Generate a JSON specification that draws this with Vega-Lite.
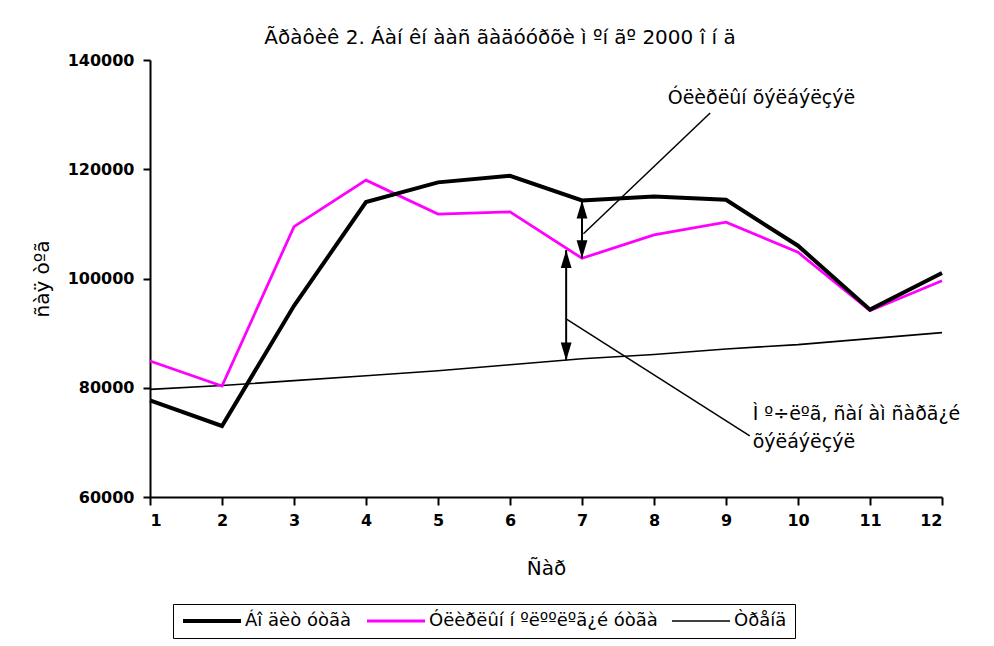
{
  "$schema": "https://vega.github.io/schema/vega-lite/v6.json",
  "autosize": {"type": "none"},
  "padding": {"left": 150, "top": 60, "right": 52, "bottom": 149},
  "width": 792,
  "height": 437,
  "background": "white",
  "title": {
    "text": "Ãðàôèê 2. Áàí êí ààñ ãàäóóðõè ì ºí ãº 2000 î í ä",
    "anchor": "middle",
    "dx": -46,
    "offset": 4,
    "fontSize": 20,
    "fontWeight": "normal",
    "font": "DejaVu Sans",
    "color": "black"
  },
  "config": {
    "view": {"stroke": null},
    "axis": {
      "grid": false,
      "domainColor": "black",
      "domainWidth": 2,
      "tickColor": "black",
      "tickWidth": 2,
      "labelColor": "black",
      "titleColor": "black",
      "labelFont": "DejaVu Sans",
      "titleFont": "DejaVu Sans",
      "labelFontSize": 16,
      "labelFontWeight": "bold",
      "titleFontSize": 20,
      "titleFontWeight": "normal"
    },
    "legend": {
      "labelFont": "DejaVu Sans",
      "labelFontSize": 18,
      "labelColor": "black",
      "labelLimit": 500
    }
  },
  "datasets": {
    "series": [
      {"month": 1, "series": "Òðåíä", "value": 79700},
      {"month": 2, "series": "Òðåíä", "value": 80400},
      {"month": 3, "series": "Òðåíä", "value": 81300},
      {"month": 4, "series": "Òðåíä", "value": 82200},
      {"month": 5, "series": "Òðåíä", "value": 83100},
      {"month": 6, "series": "Òðåíä", "value": 84200},
      {"month": 7, "series": "Òðåíä", "value": 85300},
      {"month": 8, "series": "Òðåíä", "value": 86100},
      {"month": 9, "series": "Òðåíä", "value": 87100},
      {"month": 10, "series": "Òðåíä", "value": 87900},
      {"month": 11, "series": "Òðåíä", "value": 89000},
      {"month": 12, "series": "Òðåíä", "value": 90100},
      {"month": 1, "series": "Óëèðëûí í ºëººëºã¿é óòãà", "value": 84900},
      {"month": 2, "series": "Óëèðëûí í ºëººëºã¿é óòãà", "value": 80300},
      {"month": 3, "series": "Óëèðëûí í ºëººëºã¿é óòãà", "value": 109500},
      {"month": 4, "series": "Óëèðëûí í ºëººëºã¿é óòãà", "value": 118000},
      {"month": 5, "series": "Óëèðëûí í ºëººëºã¿é óòãà", "value": 111800},
      {"month": 6, "series": "Óëèðëûí í ºëººëºã¿é óòãà", "value": 112200},
      {"month": 7, "series": "Óëèðëûí í ºëººëºã¿é óòãà", "value": 103700},
      {"month": 8, "series": "Óëèðëûí í ºëººëºã¿é óòãà", "value": 108000},
      {"month": 9, "series": "Óëèðëûí í ºëººëºã¿é óòãà", "value": 110300},
      {"month": 10, "series": "Óëèðëûí í ºëººëºã¿é óòãà", "value": 104800},
      {"month": 11, "series": "Óëèðëûí í ºëººëºã¿é óòãà", "value": 94100},
      {"month": 12, "series": "Óëèðëûí í ºëººëºã¿é óòãà", "value": 99600},
      {"month": 1, "series": "Áî äèò óòãà", "value": 77700},
      {"month": 2, "series": "Áî äèò óòãà", "value": 73000},
      {"month": 3, "series": "Áî äèò óòãà", "value": 95000},
      {"month": 4, "series": "Áî äèò óòãà", "value": 114000},
      {"month": 5, "series": "Áî äèò óòãà", "value": 117600},
      {"month": 6, "series": "Áî äèò óòãà", "value": 118800},
      {"month": 7, "series": "Áî äèò óòãà", "value": 114300},
      {"month": 8, "series": "Áî äèò óòãà", "value": 115000},
      {"month": 9, "series": "Áî äèò óòãà", "value": 114400},
      {"month": 10, "series": "Áî äèò óòãà", "value": 106000},
      {"month": 11, "series": "Áî äèò óòãà", "value": 94300},
      {"month": 12, "series": "Áî äèò óòãà", "value": 101000}
    ],
    "arrows": [
      {"ax": 7, "ytop": 114300, "ybot": 103700},
      {"ax": 6.78, "ytop": 105200, "ybot": 85000}
    ],
    "heads": [
      {"ax": 7, "ay": 114300, "dir": "up"},
      {"ax": 7, "ay": 103700, "dir": "down"},
      {"ax": 6.78, "ay": 105200, "dir": "up"},
      {"ax": 6.78, "ay": 85000, "dir": "down"}
    ],
    "leaders": [
      {"lx1": 7.02, "ly1": 108200, "lx2": 8.78, "ly2": 130300},
      {"lx1": 6.79, "ly1": 92500, "lx2": 9.33, "ly2": 71200}
    ],
    "labels": [
      {"tx": 8.19, "ty": 133000, "label": "Óëèðëûí  õýëáýëçýë"},
      {"tx": 9.37, "ty": 75200, "label": "Ì º÷ëºã, ñàí àì ñàðã¿é"},
      {"tx": 9.37, "ty": 70000, "label": "õýëáýëçýë"}
    ]
  },
  "layer": [
    {
      "data": {"name": "series"},
      "mark": {"type": "line"},
      "encoding": {
        "x": {
          "field": "month",
          "type": "quantitative",
          "scale": {"domain": [1, 12], "nice": false, "zero": false},
          "axis": {
            "title": "Ñàð",
            "values": [1, 2, 3, 4, 5, 6, 7, 8, 9, 10, 11, 12],
            "tickSize": 8,
            "labelPadding": 7,
            "titlePadding": 30,
            "format": "d"
          }
        },
        "y": {
          "field": "value",
          "type": "quantitative",
          "scale": {"domain": [60000, 140000], "nice": false, "zero": false},
          "axis": {
            "title": "ñàÿ òºã",
            "values": [60000, 80000, 100000, 120000, 140000],
            "format": "d",
            "tickSize": 7,
            "labelPadding": 9,
            "titlePadding": 15
          }
        },
        "color": {
          "field": "series",
          "type": "nominal",
          "scale": {
            "domain": ["Áî äèò óòãà", "Óëèðëûí í ºëººëºã¿é óòãà", "Òðåíä"],
            "range": ["#000000", "#FF00FF", "#000000"]
          },
          "legend": {
            "title": null,
            "orient": "none",
            "legendX": 23,
            "legendY": 544,
            "direction": "horizontal",
            "columns": 3,
            "symbolType": "M-1,0L7.29,0",
            "symbolSize": 196,
            "strokeColor": "black",
            "padding": 8,
            "columnPadding": 10,
            "labelOffset": 46
          }
        },
        "strokeWidth": {
          "field": "series",
          "type": "nominal",
          "scale": {
            "domain": ["Áî äèò óòãà", "Óëèðëûí í ºëººëºã¿é óòãà", "Òðåíä"],
            "range": [4, 1.6, 1.6]
          },
          "legend": {
            "title": null,
            "orient": "none",
            "legendX": 23,
            "legendY": 544,
            "direction": "horizontal",
            "columns": 3,
            "symbolType": "M-1,0L7.29,0",
            "symbolSize": 196,
            "strokeColor": "black",
            "padding": 8,
            "columnPadding": 10,
            "labelOffset": 46
          }
        }
      }
    },
    {
      "data": {"name": "arrows"},
      "mark": {"type": "rule", "color": "black", "strokeWidth": 2},
      "encoding": {
        "x": {"field": "ax", "type": "quantitative"},
        "y": {"field": "ytop", "type": "quantitative"},
        "y2": {"field": "ybot"}
      }
    },
    {
      "data": {"name": "heads"},
      "mark": {"type": "point", "filled": true, "color": "black", "opacity": 1, "size": 324, "strokeWidth": 0},
      "encoding": {
        "x": {"field": "ax", "type": "quantitative"},
        "y": {"field": "ay", "type": "quantitative"},
        "shape": {
          "field": "dir",
          "type": "nominal",
          "scale": {"domain": ["up", "down"], "range": ["M0,0L0.6,2L-0.6,2Z", "M0,0L0.6,-2L-0.6,-2Z"]},
          "legend": null
        }
      }
    },
    {
      "data": {"name": "leaders"},
      "mark": {"type": "rule", "color": "black", "strokeWidth": 1.5},
      "encoding": {
        "x": {"field": "lx1", "type": "quantitative"},
        "y": {"field": "ly1", "type": "quantitative"},
        "x2": {"field": "lx2"},
        "y2": {"field": "ly2"}
      }
    },
    {
      "data": {"name": "labels"},
      "mark": {"type": "text", "align": "left", "baseline": "middle", "fontSize": 19, "font": "DejaVu Sans", "color": "black"},
      "encoding": {
        "x": {"field": "tx", "type": "quantitative"},
        "y": {"field": "ty", "type": "quantitative"},
        "text": {"field": "label"}
      }
    }
  ]
}
